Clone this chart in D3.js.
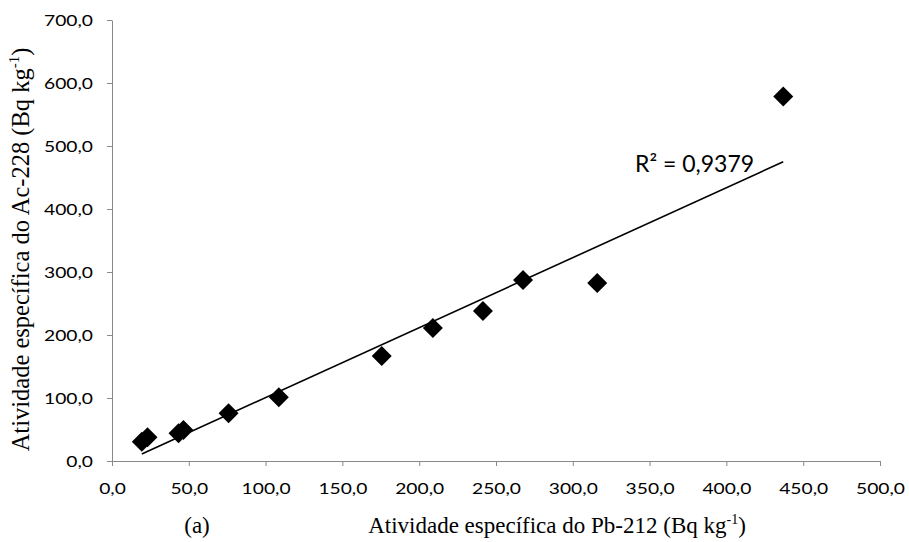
<!DOCTYPE html>
<html>
<head>
<meta charset="utf-8">
<script src="https://cdn.jsdelivr.net/npm/d3@7"></script>
<style>
  body { margin: 0; background: #ffffff; }
  svg { display: block; }
</style>
</head>
<body>
<svg id="chart" width="909" height="542"></svg>
<script>
// Specific activity of Pb-212 (x) and Ac-228 (y), Bq kg-1
const pb212 = [19.4, 23.1, 43.3, 46.5, 75.9, 108.6, 175.6, 208.9, 241.5, 267.6, 315.9, 437.0];
const ac228 = [30.6, 37.6, 44.0, 49.2, 75.7, 101.1, 166.7, 211.1, 238.1, 287.3, 282.5, 578.5];

// Linear trend line: slope, intercept
const trendCoefficients = [1.1106, -10.4];
const rSquaredText = "R² = 0,9379";

const xTickValues = [0, 50, 100, 150, 200, 250, 300, 350, 400, 450, 500];
const yTickValues = [0, 100, 200, 300, 400, 500, 600, 700];

const svg = d3.select("#chart");
const axisColor = "#898989";
const tickFont = "Lato, 'Open Sans', sans-serif";
const titleFont = "'Liberation Serif', 'Times New Roman', serif";

const x = d3.scaleLinear().domain([0, 500]).range([112, 880]);
const y = d3.scaleLinear().domain([0, 700]).range([461, 20]);

const ptBr = d3.formatLocale({ decimal: ",", thousands: ".", grouping: [3], currency: ["R$", ""] });
const fmt = ptBr.format(".1f");

// Y axis
const yAxis = svg.append("g")
  .attr("transform", `translate(${x(0)},0)`)
  .call(d3.axisLeft(y).tickValues(yTickValues).tickFormat(fmt).tickSize(5).tickPadding(14).tickSizeOuter(0));

// X axis
const xAxis = svg.append("g")
  .attr("transform", `translate(0,${y(0)})`)
  .call(d3.axisBottom(x).tickValues(xTickValues).tickFormat(fmt).tickSize(5).tickPadding(17).tickSizeOuter(0));

[yAxis, xAxis].forEach(g => {
  g.select(".domain").attr("stroke", axisColor).attr("stroke-width", 1);
  g.selectAll(".tick line").attr("stroke", axisColor).attr("stroke-width", 1);
  g.selectAll(".tick text")
    .attr("fill", "#000")
    .style("font-family", tickFont)
    .style("font-size", "16px");
});

// Tick labels are set slightly wide: "700,0" spans about 49px
const widest = yAxis.selectAll(".tick text").filter(d => d === 700).node();
const stretch = 49 / widest.getComputedTextLength();
svg.selectAll(".tick text").each(function () {
  const len = this.getComputedTextLength();
  d3.select(this).attr("textLength", len * stretch).attr("lengthAdjust", "spacingAndGlyphs");
});

// Trend line across the range of the data
const [slope, intercept] = trendCoefficients;
const xExtent = d3.extent(pb212);
svg.append("line")
  .attr("x1", x(xExtent[0])).attr("y1", y(slope * xExtent[0] + intercept))
  .attr("x2", x(xExtent[1])).attr("y2", y(slope * xExtent[1] + intercept))
  .attr("stroke", "#000")
  .attr("stroke-width", 1.6);

// Diamond markers
const diamond = d3.symbol().type(d3.symbolSquare).size(200);
svg.append("g")
  .selectAll("path")
  .data(d3.zip(pb212, ac228))
  .join("path")
  .attr("d", diamond)
  .attr("transform", d => `translate(${x(d[0])},${y(d[1])}) rotate(45)`)
  .attr("fill", "#000");

// R² annotation
svg.append("text")
  .attr("x", 635)
  .attr("y", 171.5)
  .style("font-family", tickFont)
  .style("font-size", "23px")
  .attr("fill", "#000")
  .text(rSquaredText);

// Axis titles
const xTitle = svg.append("text")
  .attr("x", 557)
  .attr("y", 532.5)
  .attr("text-anchor", "middle")
  .style("font-family", titleFont)
  .style("font-size", "23px")
  .attr("fill", "#000");
xTitle.append("tspan").text("Atividade específica do Pb-212 (Bq kg");
xTitle.append("tspan").attr("dy", -9).style("font-size", "14px").text("-1");
xTitle.append("tspan").attr("dy", 9).text(")");

svg.append("text")
  .attr("x", 197)
  .attr("y", 532.5)
  .attr("text-anchor", "middle")
  .style("font-family", titleFont)
  .style("font-size", "23px")
  .attr("fill", "#000")
  .text("(a)");

const yTitle = svg.append("text")
  .attr("transform", "translate(29,249.5) rotate(-90)")
  .attr("text-anchor", "middle")
  .style("font-family", titleFont)
  .style("font-size", "24.5px")
  .attr("fill", "#000");
yTitle.append("tspan").text("Atividade específica do Ac-228 (Bq kg");
yTitle.append("tspan").attr("dy", -10).style("font-size", "15px").text("-1");
yTitle.append("tspan").attr("dy", 10).text(")");
</script>
</body>
</html>
